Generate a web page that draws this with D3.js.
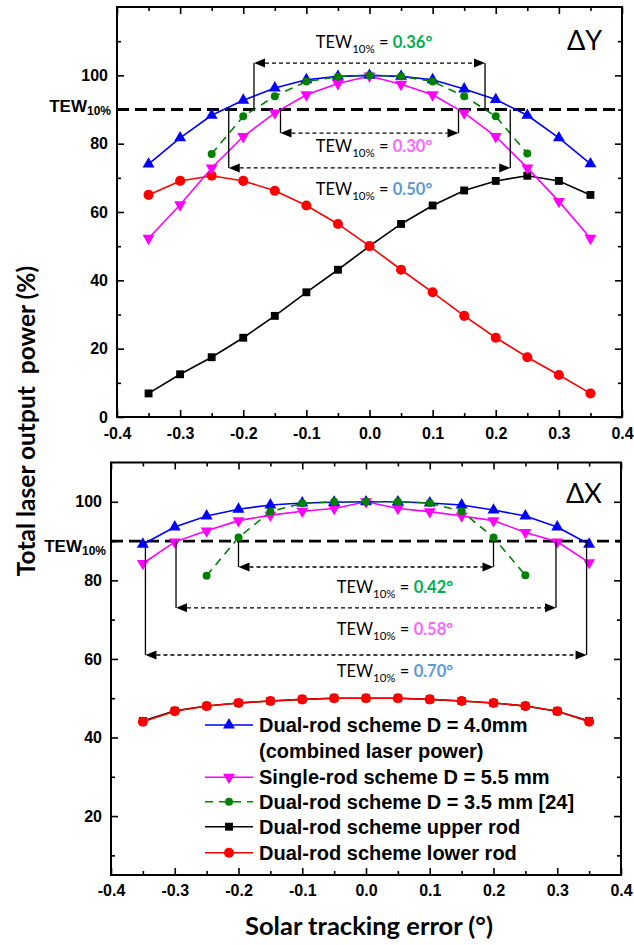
<!DOCTYPE html>
<html>
<head>
<meta charset="utf-8">
<script src="https://cdn.jsdelivr.net/npm/d3@7"></script>
<style>
  body { margin: 0; background: #fff; }
  svg { display: block; }
</style>
</head>
<body>
<svg id="chart"></svg>
<script>
// x positions (solar tracking error, degrees)
const xFull = [-0.35, -0.3, -0.25, -0.2, -0.15, -0.1, -0.05, 0, 0.05, 0.1, 0.15, 0.2, 0.25, 0.3, 0.35];
const xNarrow = [-0.25, -0.2, -0.15, -0.1, -0.05, 0, 0.05, 0.1, 0.15, 0.2, 0.25];

// ΔY panel
const dyDual40 = [74.0, 81.7, 88.3, 92.7, 96.3, 98.7, 99.7, 100, 99.7, 98.7, 96.0, 92.9, 88.3, 81.7, 74.1];
const dySingle55 = [52.3, 62.1, 72.9, 82.1, 89.0, 94.3, 97.6, 99.8, 97.4, 94.3, 89.0, 82.1, 72.9, 63.1, 52.3];
const dyDual35 = [77.0, 88.0, 93.9, 98.2, 99.6, 100, 99.7, 98.2, 93.9, 88.0, 77.1];
const dyUpper = [6.9, 12.5, 17.5, 23.2, 29.6, 36.5, 43.1, 50.0, 56.5, 61.9, 66.3, 69.1, 70.6, 69.1, 65.0];
const dyLower = [65.0, 69.1, 70.6, 69.1, 66.2, 61.9, 56.5, 50.0, 43.1, 36.5, 29.6, 23.2, 17.5, 12.3, 6.9];

// ΔX panel
const dxDual40 = [89.2, 93.6, 96.4, 98.1, 99.2, 99.7, 99.9, 100, 100, 99.7, 99.2, 97.9, 96.4, 93.6, 89.2];
const dxSingle55 = [84.3, 89.8, 92.6, 95.2, 96.6, 97.6, 98.3, 100, 98.3, 97.5, 96.4, 95.2, 92.2, 89.8, 84.5];
const dxDual35 = [81.2, 90.9, 97.5, 99.6, 100, 100, 100, 99.7, 97.6, 90.9, 81.3];
const dxUpper = [44.2, 46.8, 48.0, 48.8, 49.3, 49.7, 50.0, 50.0, 50.0, 49.7, 49.3, 48.8, 48.0, 46.7, 44.2];
const dxLower = [44.0, 46.7, 48.0, 48.8, 49.3, 49.7, 50.0, 50.0, 50.0, 49.7, 49.3, 48.8, 48.0, 46.7, 44.0];

// TEW10% widths (deg) and threshold
const tewThreshold = 90;
const tewDY = [0.36, 0.30, 0.50];
const tewDX = [0.42, 0.58, 0.70];

// ticks
const xTicks = [-0.4, -0.3, -0.2, -0.1, 0, 0.1, 0.2, 0.3, 0.4];
const xMinor = [-0.35, -0.25, -0.15, -0.05, 0.05, 0.15, 0.25, 0.35];
const yTicksTop = [0, 20, 40, 60, 80, 100];
const yMinorTop = [10, 30, 50, 70, 90, 110];
const yTicksBottom = [20, 40, 60, 80, 100];
const yMinorBottom = [10, 30, 50, 70, 90];

const legendLabels = [
  ['Dual-rod scheme D = 4.0mm', '(combined laser power)'],
  ['Single-rod scheme D = 5.5 mm'],
  ['Dual-rod scheme D = 3.5 mm [24]'],
  ['Dual-rod scheme upper rod'],
  ['Dual-rod scheme lower rod']
];

const W = 634, H = 945;
const svg = d3.select('#chart').attr('width', W).attr('height', H);
svg.append('rect').attr('width', W).attr('height', H).attr('fill', '#fff');

const tickFont = '"Liberation Sans", Arial, sans-serif';
const calFont = 'Lato, "Open Sans", sans-serif';

// series styles, legend order
const styles = {
  dual40: { color: '#0000ff', symbol: d3.symbolTriangle, size: 62, rot: 0, dash: null },
  single: { color: '#ff00ff', symbol: d3.symbolTriangle, size: 62, rot: 180, dash: null },
  dual35: { color: '#008000', symbol: d3.symbolCircle, size: 50, rot: 0, dash: '8,6' },
  upper:  { color: '#000000', symbol: d3.symbolSquare, size: 62, rot: 0, dash: null },
  lower:  { color: '#ff0000', symbol: d3.symbolCircle, size: 80, rot: 0, dash: null }
};
const legendOrder = ['dual40', 'single', 'dual35', 'upper', 'lower'];
const drawOrder = ['upper', 'lower', 'single', 'dual40', 'dual35'];

const panels = [
  {
    tag: 'ΔY', left: 117, right: 622, top: 7, bottom: 417, yDomain: [0, 120],
    yTicks: yTicksTop, yMinor: yMinorTop, labelPad: 9, xPad: 11,
    series: {
      upper: [xFull, dyUpper], lower: [xFull, dyLower], single: [xFull, dySingle55],
      dual40: [xFull, dyDual40], dual35: [xNarrow, dyDual35]
    },
    tewLabel: { x: 111, y: 111.5 },
    // annotation layout: half width where the curve meets 90%, arrow level, label spot
    tew: [
      { key: 'dual35', tew: tewDY[0], half: 0.183, arrowY: 103.6, lx: -0.085, ly: 108.0, color: '#00b050' },
      { key: 'single', tew: tewDY[1], half: 0.141, arrowY: 83.1, lx: -0.085, ly: 77.7, color: '#ff66ff' },
      { key: 'dual40', tew: tewDY[2], half: 0.223, arrowY: 72.9, lx: -0.085, ly: 65.0, color: '#5b9bd5' }
    ],
    legend: false
  },
  {
    tag: 'ΔX', left: 111, right: 621, top: 462.5, bottom: 875, yDomain: [5, 110],
    yTicks: yTicksBottom, yMinor: yMinorBottom, labelPad: 9, xPad: 10,
    series: {
      upper: [xFull, dxUpper], lower: [xFull, dxLower], single: [xFull, dxSingle55],
      dual40: [xFull, dxDual40], dual35: [xNarrow, dxDual35]
    },
    tewLabel: { x: 106, y: 551.5 },
    tew: [
      { key: 'dual35', tew: tewDX[0], half: 0.2, arrowY: 83.4, lx: -0.046, ly: 76.7, color: '#00b050' },
      { key: 'single', tew: tewDX[1], half: 0.298, arrowY: 73.0, lx: -0.046, ly: 66.0, color: '#ff66ff' },
      { key: 'dual40', tew: tewDX[2], half: 0.346, arrowY: 61.0, lx: -0.046, ly: 55.4, color: '#5b9bd5' }
    ],
    legend: true
  }
];

function marker(sel, st) {
  sel.attr('d', d3.symbol(st.symbol, st.size))
    .attr('fill', st.color);
}

panels.forEach(p => {
  const g = svg.append('g');
  const x = d3.scaleLinear().domain([-0.4, 0.4]).range([p.left, p.right]);
  const y = d3.scaleLinear().domain(p.yDomain).range([p.bottom, p.top]);

  // ticks (all inward)
  const axes = [
    [d3.axisBottom(x).tickValues(xTicks).tickSize(-7).tickPadding(p.xPad).tickFormat(d => d.toFixed(1)), `translate(0,${p.bottom})`],
    [d3.axisBottom(x).tickValues(xMinor).tickSize(-4).tickFormat(''), `translate(0,${p.bottom})`],
    [d3.axisTop(x).tickValues(xTicks).tickSize(-7).tickFormat(''), `translate(0,${p.top})`],
    [d3.axisTop(x).tickValues(xMinor).tickSize(-4).tickFormat(''), `translate(0,${p.top})`],
    [d3.axisLeft(y).tickValues(p.yTicks).tickSize(-7).tickPadding(p.labelPad).tickFormat(d3.format('d')), `translate(${p.left},0)`],
    [d3.axisLeft(y).tickValues(p.yMinor).tickSize(-4).tickFormat(''), `translate(${p.left},0)`],
    [d3.axisRight(y).tickValues(p.yTicks).tickSize(-7).tickFormat(''), `translate(${p.right},0)`],
    [d3.axisRight(y).tickValues(p.yMinor).tickSize(-4).tickFormat(''), `translate(${p.right},0)`]
  ];
  axes.forEach(([ax, tr]) => {
    const a = g.append('g').attr('transform', tr).call(ax);
    a.select('.domain').remove();
    a.selectAll('.tick line').attr('stroke', '#000').attr('stroke-width', 1.6);
    a.selectAll('text')
      .attr('fill', '#000')
      .style('font-family', tickFont)
      .style('font-weight', 'bold')
      .style('font-size', '16px');
  });

  // frame
  g.append('rect')
    .attr('x', p.left).attr('y', p.top)
    .attr('width', p.right - p.left).attr('height', p.bottom - p.top)
    .attr('fill', 'none').attr('stroke', '#000').attr('stroke-width', 2);

  // TEW10% threshold line
  g.append('line')
    .attr('x1', p.left).attr('x2', p.right)
    .attr('y1', y(tewThreshold)).attr('y2', y(tewThreshold))
    .attr('stroke', '#000').attr('stroke-width', 2.8)
    .attr('stroke-dasharray', '12,6');

  const tl = g.append('text')
    .attr('x', p.tewLabel.x).attr('y', p.tewLabel.y)
    .attr('text-anchor', 'end')
    .style('font-family', tickFont).style('font-weight', 'bold').style('font-size', '17px');
  tl.append('tspan').text('TEW');
  tl.append('tspan').attr('dy', 3.5).style('font-size', '12px').text('10%');

  // series
  const line = d3.line().x(d => x(d[0])).y(d => y(d[1]));
  drawOrder.forEach(k => {
    const st = styles[k];
    const [xs, vs] = p.series[k];
    const pts = xs.map((xv, i) => [xv, vs[i]]);
    g.append('path')
      .datum(pts)
      .attr('d', line)
      .attr('fill', 'none')
      .attr('stroke', st.color)
      .attr('stroke-width', 1.6)
      .attr('stroke-dasharray', st.dash);
    g.selectAll(null)
      .data(pts)
      .enter()
      .append('path')
      .attr('transform', d => `translate(${x(d[0])},${y(d[1])}) rotate(${st.rot})`)
      .call(marker, st);
  });

  // TEW annotations
  const ah = 11, aw = 4.5;
  p.tew.forEach(t => {
    const xl = x(-t.half), xr = x(t.half);
    const ya = y(t.arrowY), y0 = y(tewThreshold);
    [xl, xr].forEach(xv => {
      g.append('line')
        .attr('x1', xv).attr('x2', xv).attr('y1', y0).attr('y2', ya)
        .attr('stroke', '#000').attr('stroke-width', 1.3);
    });
    g.append('line')
      .attr('x1', xl + ah).attr('x2', xr - ah).attr('y1', ya).attr('y2', ya)
      .attr('stroke', '#000').attr('stroke-width', 1.3)
      .attr('stroke-dasharray', '4,3');
    g.append('path')
      .attr('d', `M${xl},${ya}L${xl + ah},${ya - aw}L${xl + ah},${ya + aw}Z`)
      .attr('fill', '#000');
    g.append('path')
      .attr('d', `M${xr},${ya}L${xr - ah},${ya - aw}L${xr - ah},${ya + aw}Z`)
      .attr('fill', '#000');

    const lab = g.append('text')
      .attr('x', x(t.lx)).attr('y', y(t.ly))
      .style('font-family', calFont).style('font-size', '16.5px').attr('fill', '#000');
    lab.append('tspan').text('TEW');
    lab.append('tspan').attr('dy', 5).style('font-size', '11.5px').text('10%');
    lab.append('tspan').attr('dy', -5).text(' = ');
    lab.append('tspan').attr('fill', t.color).style('font-weight', 'bold').text(t.tew.toFixed(2) + '°');
  });

  // panel tag
  g.append('text')
    .attr('x', p.right - 55).attr('y', y(p.yDomain[1]) + (p.top === 7 ? 43 : 40.5))
    .style('font-family', calFont).style('font-size', '27px')
    .text(p.tag);

  // legend
  if (p.legend) {
    const rows = [725, 777.3, 801.7, 826.7, 852.7];
    legendOrder.forEach((k, i) => {
      const st = styles[k];
      const lg = g.append('g').attr('transform', `translate(0,${rows[i]})`);
      lg.append('line')
        .attr('x1', 205).attr('x2', 253).attr('y1', 0).attr('y2', 0)
        .attr('stroke', st.color).attr('stroke-width', 1.6)
        .attr('stroke-dasharray', st.dash);
      lg.append('path')
        .attr('transform', `translate(229,0) rotate(${st.rot})`)
        .call(marker, st);
      legendLabels[i].forEach((txt, j) => {
        lg.append('text')
          .attr('x', 259).attr('y', 7 + j * 26)
          .style('font-family', tickFont).style('font-weight', 'bold').style('font-size', '20px')
          .text(txt);
      });
    });
  }
});

// axis titles
svg.append('text')
  .attr('transform', 'translate(35,421) rotate(-90)')
  .attr('text-anchor', 'middle')
  .style('font-family', calFont).style('font-weight', 'bold').style('font-size', '24.5px')
  .style('white-space', 'pre')
  .text('Total laser output  power (%)');

svg.append('text')
  .attr('x', 369).attr('y', 935)
  .attr('text-anchor', 'middle')
  .style('font-family', calFont).style('font-weight', 'bold').style('font-size', '25.5px')
  .style('white-space', 'pre')
  .text('Solar tracking error (°)');
</script>
</body>
</html>
